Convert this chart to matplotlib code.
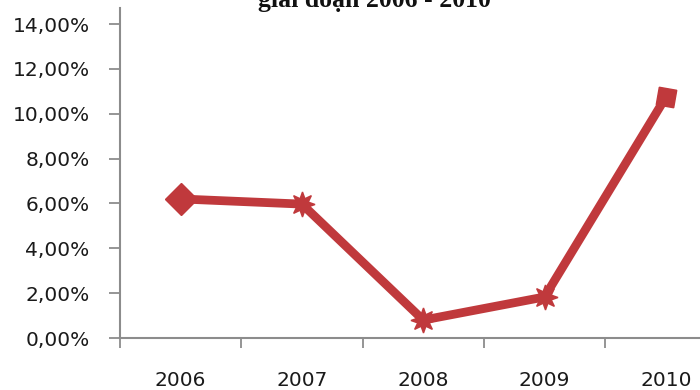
import matplotlib

matplotlib.use("Agg")
import matplotlib.pyplot as plt
from matplotlib.ticker import FixedLocator, FuncFormatter

years = ["2006", "2007", "2008", "2009", "2010"]
rates = [6.20, 5.97, 0.80, 1.83, 10.74]
markers = ["D", (8, 1, 0), (8, 1, 0), (8, 1, 0), (4, 0, 35)]
y_ticks = [0, 2, 4, 6, 8, 10, 12, 14]
title = "giai đoạn 2006 - 2010"

red = "#C0393C"
axis_grey = "#8c8c8c"

fig = plt.figure(figsize=(7, 3.9), dpi=100)
ax = fig.add_axes([120 / 700, 52 / 390, 606.5 / 700, 329.7 / 390])

x = list(range(len(years)))
ax.plot(x, rates, color=red, lw=6.3, solid_joinstyle="miter", zorder=3)
for xi, yi, m in zip(x, rates, markers):
    ax.plot(xi, yi, marker=m, ms=16 if m == "D" else 18, color=red, mec=red, zorder=4)

ax.set_xlim(-0.5, len(years) - 0.5)
ax.set_ylim(0, 14.7)

ax.set_xticks(x)
ax.set_xticklabels(years)
ax.xaxis.set_minor_locator(FixedLocator([i - 0.5 for i in range(len(years) + 1)]))
ax.tick_params(axis="x", which="major", length=0, pad=24, labelsize=14.5, colors="#1a1a1a")
ax.tick_params(axis="x", which="minor", length=7, width=1.3, color=axis_grey, direction="out")

ax.set_yticks(y_ticks)
ax.yaxis.set_major_formatter(FuncFormatter(lambda v, _: f"{v:.2f}%".replace(".", ",")))
ax.tick_params(axis="y", length=8, width=1.3, color=axis_grey, pad=14, labelsize=14.5, labelcolor="#1a1a1a")

for side in ("top", "right"):
    ax.spines[side].set_visible(False)
for side in ("left", "bottom"):
    ax.spines[side].set_color(axis_grey)
    ax.spines[side].set_linewidth(1.5)

fig.text(374 / 700, 1 - 7 / 390, title, ha="center", va="baseline",
         fontsize=18.5, fontweight="bold", family="Liberation Serif", color="#111111")

fig.savefig("out.png")
